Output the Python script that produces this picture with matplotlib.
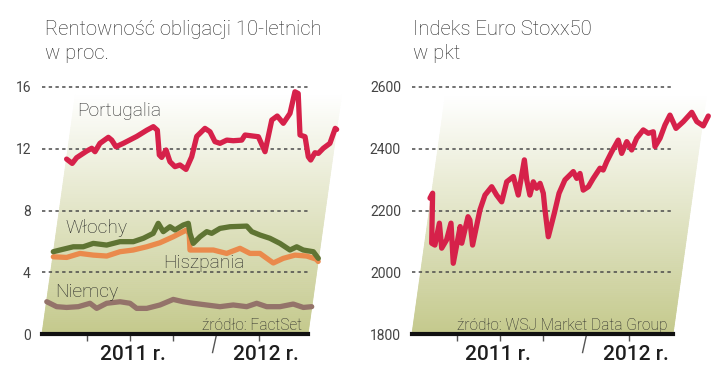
import numpy as np
import matplotlib
matplotlib.use("Agg")
import matplotlib.pyplot as plt
from matplotlib.transforms import Affine2D, blended_transform_factory
from matplotlib.patches import Polygon

# ---------------- data (fractional years, values) ----------------
port_t = [2010.319, 2010.367, 2010.395, 2010.466, 2010.502, 2010.531, 2010.560, 2010.619, 2010.648, 2010.688,
          2010.741, 2010.838, 2010.909, 2010.956, 2010.991, 2011.033, 2011.054, 2011.080, 2011.123, 2011.167,
          2011.204, 2011.256, 2011.286, 2011.303, 2011.358, 2011.401, 2011.450, 2011.491, 2011.540, 2011.591,
          2011.656, 2011.676, 2011.741, 2011.781, 2011.849, 2011.867, 2011.905, 2011.960, 2012.001, 2012.016,
          2012.043, 2012.102, 2012.143, 2012.190, 2012.212, 2012.237, 2012.264, 2012.297, 2012.343, 2012.368, 2012.38]
port_v = [11.33, 11.05, 11.42, 11.85, 12.03, 11.81, 12.35, 12.74, 12.56, 12.13,
          12.35, 12.8, 13.2, 13.43, 13.2, 11.6, 11.44, 11.92, 11.16, 10.84,
          10.95, 10.66, 11.48, 12.8, 13.32, 13.1, 12.46, 12.35, 12.56, 12.52,
          12.56, 12.89, 12.82, 12.78, 11.81, 13.86, 14.12, 13.65, 14.29, 15.69,
          15.58, 12.89, 12.78, 11.48, 11.27, 11.74, 11.7, 12.03, 12.35, 13.32, 13.25]

ital_t = [2010.316, 2010.366, 2010.466, 2010.543, 2010.617, 2010.723, 2010.822, 2010.926, 2011.0, 2011.071,
          2011.099, 2011.147, 2011.194, 2011.236, 2011.295, 2011.332, 2011.356, 2011.392, 2011.437, 2011.484,
          2011.524, 2011.583, 2011.659, 2011.788, 2011.833, 2011.901, 2011.981, 2012.064, 2012.149, 2012.198,
          2012.252, 2012.332, 2012.378]
ital_v = [5.33, 5.44, 5.65, 5.65, 5.87, 5.76, 5.98, 5.98, 6.2, 6.52,
          7.17, 6.63, 6.95, 6.74, 7.06, 7.17, 6.52, 5.87, 6.3, 6.63,
          6.52, 6.84, 6.95, 6.99, 6.63, 6.41, 6.2, 5.87, 5.44, 5.65,
          5.44, 5.33, 4.9]

spain_t = [2010.322, 2010.426, 2010.525, 2010.630, 2010.735, 2010.833, 2010.934, 2011.035, 2011.133, 2011.230,
           2011.302, 2011.326, 2011.350, 2011.374, 2011.452, 2011.555, 2011.662, 2011.760, 2011.843, 2011.920,
           2012.034, 2012.106, 2012.194, 2012.285, 2012.366, 2012.38]
spain_v = [5.0, 4.96, 5.22, 5.11, 5.05, 5.33, 5.44, 5.65, 5.91, 6.3,
           6.63, 6.74, 6.5, 5.44, 5.44, 5.44, 5.22, 5.55, 5.22, 5.22,
           4.6, 4.9, 5.11, 5.05, 4.84, 4.7]

ger_t = [2010.32, 2010.402, 2010.480, 2010.570, 2010.657, 2010.714, 2010.786, 2010.888, 2010.967, 2011.024,
         2011.102, 2011.201, 2011.298, 2011.378, 2011.457, 2011.563, 2011.668, 2011.769, 2011.875, 2011.949,
         2012.030, 2012.133, 2012.233, 2012.315, 2012.379]
ger_v = [2.09, 1.77, 1.72, 1.77, 1.99, 1.66, 1.99, 2.09, 1.99, 1.66,
         1.66, 1.88, 2.24, 2.09, 1.99, 1.88, 1.77, 1.88, 1.77, 1.99,
         1.77, 1.77, 1.94, 1.72, 1.77]

stoxx_t = [2010.31, 2010.325, 2010.372, 2010.399, 2010.41, 2010.455, 2010.484, 2010.50, 2010.561, 2010.575,
           2010.605, 2010.625, 2010.643, 2010.691, 2010.71, 2010.733, 2010.776, 2010.823, 2010.870, 2010.887,
           2010.933, 2010.991, 2011.0, 2011.040, 2011.081, 2011.093, 2011.126, 2011.147, 2011.183, 2011.214,
           2011.269, 2011.29, 2011.305, 2011.336, 2011.392, 2011.426, 2011.446, 2011.489, 2011.525, 2011.554,
           2011.595, 2011.622, 2011.640, 2011.668, 2011.706, 2011.747, 2011.774, 2011.821, 2011.847, 2011.889,
           2011.932, 2011.969, 2011.998, 2012.028, 2012.052, 2012.080, 2012.141, 2012.191, 2012.246, 2012.295,
           2012.350, 2012.378]
stoxx_v = [2240, 2256, 2094, 2088, 2159, 2078, 2105, 2159, 2029, 2148,
           2094, 2180, 2169, 2088, 2202, 2250, 2277, 2250, 2228, 2293,
           2310, 2250, 2364, 2299, 2250, 2293, 2272, 2288, 2256, 2202,
           2115, 2191, 2256, 2299, 2326, 2304, 2320, 2266, 2277, 2304,
           2337, 2331, 2358, 2390, 2428, 2385, 2423, 2396, 2434, 2461,
           2450, 2455, 2407, 2434, 2477, 2509, 2466, 2488, 2518, 2488,
           2474, 2506]

left_yticks = [0, 4, 8, 12, 16]
right_yticks = [1800, 2000, 2200, 2400, 2600]
minor_ticks = [2010.667, 2011.0, 2011.333, 2012.0]
year_labels = ["2011 r.", "2012 r."]

# ---------------- styling ----------------
LIGHT = ['Roboto', 'DejaVu Sans']
REG = ['Roboto', 'DejaVu Sans']
RED = '#d6214a'
GREEN = '#5f7433'
ORANGE = '#ea8a4c'
BROWN = '#94736a'
TXT = '#262626'
BG_BOTTOM = np.array([196, 201, 140]) / 255.0
K = 0.14  # visual shear (px right per px up)

W_PX, H_PX = 720, 375
fig = plt.figure(figsize=(7.2, 3.75), dpi=100)
fig.patch.set_facecolor('white')


def px_axes(x0, x1, ybot, ytop):
    return fig.add_axes([x0 / W_PX, (H_PX - ybot) / H_PX, (x1 - x0) / W_PX, (ybot - ytop) / H_PX])


def shear(ax):
    bb = ax.get_position()
    w = bb.width * W_PX
    h = bb.height * H_PX
    x0, x1 = ax.get_xlim()
    y0, y1 = ax.get_ylim()
    c = K * (h / (y1 - y0)) / (w / (x1 - x0))
    return Affine2D(np.array([[1, c, -c * y0], [0, 1, 0], [0, 0, 1]])) + ax.transData


def setup(ax, xlim, ylim, yticks, bg_top):
    ax.set_xlim(*xlim)
    ax.set_ylim(*ylim)
    ax.patch.set_visible(False)
    for s in ['left', 'right', 'top']:
        ax.spines[s].set_visible(False)
    ax.spines['bottom'].set_linewidth(3)
    ax.spines['bottom'].set_color('#111111')
    ax.spines['bottom'].set_zorder(5)
    ax.set_yticks(yticks)
    ax.set_yticklabels([str(v) for v in yticks], family=REG, fontsize=10, color='#444444')
    ax.tick_params(axis='y', length=0, pad=8)
    ax.set_xticks(minor_ticks)
    ax.set_xticklabels([])
    ax.tick_params(axis='x', length=5, width=1, color='#555555', direction='out')
    tr = shear(ax)
    # gradient background parallelogram
    n = 120
    ys = np.linspace(ylim[0], bg_top, n + 1)
    for i in range(n):
        t = (i + 0.5) / n
        col = BG_BOTTOM * (1 - t) + np.ones(3) * t
        poly = Polygon([(xlim[0], ys[i]), (xlim[1], ys[i]), (xlim[1], ys[i + 1]), (xlim[0], ys[i + 1])],
                       closed=True, facecolor=col, edgecolor=col, lw=0.6, transform=tr,
                       clip_on=False, zorder=0)
        ax.add_patch(poly)
    # dashed grid lines
    for v in yticks[1:]:
        ax.plot(xlim, [v, v], color='#4a4a4a', lw=1.1, dashes=(2.2, 2.2), zorder=1, clip_on=False)
    # slanted tick
    ax.plot([2011.667 + 0.003, 2011.667 - 0.027], [-0.004, -0.075], transform=ax.get_xaxis_transform(),
            color='#555555', lw=1, clip_on=False)
    return tr


def series(ax, tr, t, v, color):
    ax.plot(t, v, color=color, lw=3.8, transform=tr, clip_on=False, zorder=3,
            solid_joinstyle='round', solid_capstyle='round')


LBL = dict(family=LIGHT, fontsize=13.8, fontweight='light', color=TXT, va='baseline', zorder=4)
SRC = dict(family=LIGHT, fontsize=11.2, fontweight='light', color=TXT, va='baseline', ha='right', zorder=4)

# ---------------- left panel ----------------
axL = px_axes(42, 308, 334, 87)
trL = setup(axL, (2010.318, 2012.380), (0, 16), left_yticks, 15.6)
series(axL, trL, ger_t, ger_v, BROWN)
series(axL, trL, spain_t, spain_v, ORANGE)
series(axL, trL, ital_t, ital_v, GREEN)
series(axL, trL, port_t, port_v, RED)

axL.text(2010.589, 14.12, "Portugalia", **LBL)
axL.text(2010.496, 6.54, "Włochy", **LBL)
axL.text(2011.256, 4.27, "Hiszpania", **LBL)
axL.text(2010.419, 2.40, "Niemcy", **LBL)
axL.text(2012.333, 0.26, "źródło: FactSet", **SRC)

# ---------------- right panel ----------------
axR = px_axes(412, 673, 334, 87)
trR = setup(axR, (2010.318, 2012.341), (1800, 2600), right_yticks, 2575)
series(axR, trR, stoxx_t, stoxx_v, RED)
axR.text(2012.302, 1813, "źródło: WSJ Market Data Group", **SRC)

# year labels
for ax, xs in [(axL, [2011.02, 2012.05]), (axR, [2010.985, 2012.05])]:
    btr = blended_transform_factory(ax.transData, fig.transFigure)
    for x, lab in zip(xs, year_labels):
        ax.text(x, 15 / H_PX, lab, transform=btr, family=REG, fontsize=15, fontweight='medium',
                color='#1e1e1e', ha='center', va='baseline', clip_on=False)

# titles
def title(xpx, l1, l2):
    fig.text(xpx / W_PX, (H_PX - 35) / H_PX, l1, family=LIGHT, fontsize=14.6, fontweight='light',
             color=TXT, va='baseline')
    fig.text(xpx / W_PX, (H_PX - 59) / H_PX, l2, family=LIGHT, fontsize=14.6, fontweight='light',
             color=TXT, va='baseline')

title(45, "Rentowność obligacji 10-letnich", "w proc.")
title(413, "Indeks Euro Stoxx50", "w pkt")

fig.savefig("out.png", dpi=100, facecolor='white')
